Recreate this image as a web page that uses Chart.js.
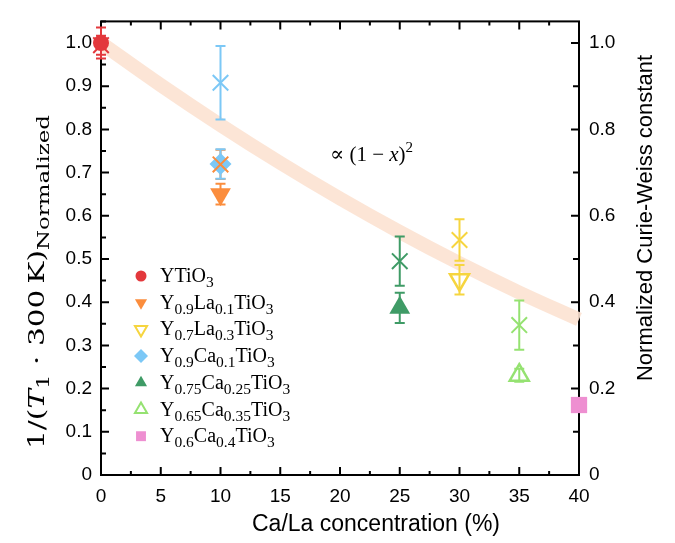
<!DOCTYPE html>
<html>
<head>
<meta charset="utf-8">
<script src="https://cdn.jsdelivr.net/npm/chart.js@4.4.1/dist/chart.umd.min.js"></script>
<style>
  html, body { margin: 0; padding: 0; background: #fff; }
</style>
</head>
<body>
<canvas id="chart" width="675" height="543"></canvas>
<script>
// samples, in legend order
const sampleParts = [
  [['YTiO', 'n'], ['3', 's']],
  [['Y', 'n'], ['0.9', 's'], ['La', 'n'], ['0.1', 's'], ['TiO', 'n'], ['3', 's']],
  [['Y', 'n'], ['0.7', 's'], ['La', 'n'], ['0.3', 's'], ['TiO', 'n'], ['3', 's']],
  [['Y', 'n'], ['0.9', 's'], ['Ca', 'n'], ['0.1', 's'], ['TiO', 'n'], ['3', 's']],
  [['Y', 'n'], ['0.75', 's'], ['Ca', 'n'], ['0.25', 's'], ['TiO', 'n'], ['3', 's']],
  [['Y', 'n'], ['0.65', 's'], ['Ca', 'n'], ['0.35', 's'], ['TiO', 'n'], ['3', 's']],
  [['Y', 'n'], ['0.6', 's'], ['Ca', 'n'], ['0.4', 's'], ['TiO', 'n'], ['3', 's']]
];
const concentration = [0, 10, 30, 10, 25, 35, 40];
// 1/(T1*300K), normalized
const t1Norm = [1.0, 0.650, 0.452, 0.720, 0.387, 0.231, 0.162];
const t1Err  = [0.036, 0.024, 0.034, 0.034, 0.035, 0.015, 0];
// normalized Curie-Weiss constant (x markers)
const cwNorm = [0.995, 0.719, 0.544, 0.908, 0.495, 0.347, null];
const cwErr  = [0.022, 0.034, 0.048, 0.085, 0.057, 0.057, 0];
// guide curve ~ (1-x)^2
const curveX = [0, 5, 10, 15, 20, 25, 30, 35, 40];
const curveY = [1.0, 0.9025, 0.81, 0.7225, 0.64, 0.5625, 0.49, 0.4225, 0.36];

const colors = ['#e3383c', '#fb8d3d', '#f6d53f', '#7cc8f6', '#3f9b66', '#95e271', '#ee8fd1'];
const styles = [
  { pointStyle: 'circle', radius: 8, rotation: 0, open: false },
  { pointStyle: 'triangle', radius: 12, rotation: 180, open: false },
  { pointStyle: 'triangle', radius: 11, rotation: 180, open: true },
  { pointStyle: 'rectRot', radius: 11, rotation: 0, open: false },
  { pointStyle: 'triangle', radius: 12, rotation: 0, open: false },
  { pointStyle: 'triangle', radius: 11, rotation: 0, open: true },
  { pointStyle: 'rect', radius: 11.5, rotation: 0, open: false }
];

const SANS = '"Liberation Sans", Arial, sans-serif';
const SERIF = '"Liberation Serif", "DejaVu Serif", serif';
const WIDE_SERIF = '"DejaVu Serif", serif';

const datasets = [];
datasets.push({
  label: 'curve',
  data: curveX.map((x, i) => ({ x: x, y: curveY[i] })),
  showLine: true,
  borderColor: 'rgba(252, 226, 210, 0.9)',
  borderWidth: 14,
  pointRadius: 0,
  tension: 0.4,
  order: 20,
  clip: false
});
concentration.forEach((c, i) => {
  const s = styles[i];
  datasets.push({
    label: 't1-' + i,
    data: [{ x: c, y: t1Norm[i] }],
    pointStyle: s.pointStyle,
    pointRadius: s.radius,
    rotation: s.rotation,
    backgroundColor: s.open ? 'rgba(255,255,255,0)' : colors[i],
    borderColor: colors[i],
    borderWidth: s.open ? 2.5 : 0,
    order: 5,
    clip: false
  });
});
concentration.forEach((c, i) => {
  if (cwNorm[i] === null) return;
  datasets.push({
    label: 'cw-' + i,
    data: [{ x: c, y: cwNorm[i] }],
    pointStyle: 'crossRot',
    pointRadius: 11,
    borderColor: colors[i],
    backgroundColor: colors[i],
    borderWidth: 2,
    order: i === 0 ? 10 : 1,
    clip: false
  });
});

// draws text pieces: n normal, s subscript, p superscript, i italic
function drawRich(ctx, parts, x, y, size, subSize, subDrop, family, measureOnly) {
  const fam = family || SERIF;
  let cx = x;
  parts.forEach(([t, kind]) => {
    let dy = 0;
    if (kind === 's' || kind === 'p') {
      ctx.font = subSize + 'px ' + fam;
      dy = kind === 's' ? subDrop : -size * 0.42;
    } else if (kind === 'i') {
      ctx.font = 'italic ' + size + 'px ' + fam;
    } else {
      ctx.font = size + 'px ' + fam;
    }
    if (!measureOnly) ctx.fillText(t, cx, y + dy);
    cx += ctx.measureText(t).width;
  });
  return cx - x;
}

const errorBars = {
  id: 'errorBars',
  afterDatasetDraw(chart, args) {
    if (args.index !== 0) return;
    const ctx = chart.ctx, xs = chart.scales.x, ys = chart.scales.y;
    ctx.save();
    ctx.lineWidth = 2;
    const bar = (xv, yv, e, col) => {
      if (yv === null || !e) return;
      const px = xs.getPixelForValue(xv);
      const y1 = ys.getPixelForValue(yv - e), y2 = ys.getPixelForValue(yv + e);
      ctx.strokeStyle = col;
      ctx.beginPath();
      ctx.moveTo(px, y1); ctx.lineTo(px, y2);
      ctx.moveTo(px - 5, y1); ctx.lineTo(px + 5, y1);
      ctx.moveTo(px - 5, y2); ctx.lineTo(px + 5, y2);
      ctx.stroke();
    };
    concentration.forEach((c, i) => {
      bar(c, cwNorm[i], cwErr[i], colors[i]);
      bar(c, t1Norm[i], t1Err[i], colors[i]);
    });
    ctx.restore();
  }
};

const frame = {
  id: 'frame',
  beforeDatasetsDraw(chart) {
    const ctx = chart.ctx, a = chart.chartArea;
    const xs = chart.scales.x, ys = chart.scales.y;
    ctx.save();
    ctx.strokeStyle = '#000';
    ctx.lineWidth = 2;
    ctx.strokeRect(a.left, a.top, a.right - a.left, a.bottom - a.top);
    ctx.beginPath();
    for (let k = 0; k <= 16; k++) {
      const px = xs.getPixelForValue(k * 2.5);
      const len = k % 2 === 0 ? 8 : 4;
      ctx.moveTo(px, a.bottom); ctx.lineTo(px, a.bottom - len);
      ctx.moveTo(px, a.top); ctx.lineTo(px, a.top + len);
    }
    for (let k = 0; k <= 21; k++) {
      const py = ys.getPixelForValue(k * 0.05);
      const len = k % 2 === 0 ? 8 : 5;
      ctx.moveTo(a.left, py); ctx.lineTo(a.left + len, py);
    }
    for (let k = 0; k <= 10; k++) {
      const py = ys.getPixelForValue(k * 0.1);
      const len = k % 2 === 0 ? 8 : 6;
      ctx.moveTo(a.right, py); ctx.lineTo(a.right - len, py);
    }
    ctx.stroke();
    ctx.restore();
  },
  afterDraw(chart) {
    const ctx = chart.ctx;
    ctx.save();
    ctx.fillStyle = '#000';
    ctx.textBaseline = 'alphabetic';

    // x title
    ctx.font = '23px ' + SANS;
    ctx.textAlign = 'center';
    ctx.fillText('Ca/La concentration (%)', 376, 531);

    // right title
    ctx.save();
    ctx.translate(652, 218);
    ctx.rotate(-Math.PI / 2);
    ctx.font = '22px ' + SANS;
    ctx.fillText('Normalized Curie-Weiss constant', 0, 0);
    ctx.restore();

    // left title, fitted along its length to the reference extent
    ctx.textAlign = 'left';
    const ttl = [['1/(', 'n'], ['T', 'i'], ['1', 's'], [' \u00b7 300\u2009K)', 'n'], ['Normalized', 's']];
    const w = drawRich(ctx, ttl, 0, 0, 22, 17, 5, WIDE_SERIF, true);
    ctx.save();
    ctx.translate(44, 449);
    ctx.rotate(-Math.PI / 2);
    ctx.scale(334 / w, 1);
    drawRich(ctx, ttl, 0, 0, 22, 17, 5, WIDE_SERIF);
    ctx.restore();

    // annotation
    drawRich(ctx, [['\u221d (1 \u2212 ', 'n'], ['x', 'i'], [')', 'n'], ['2', 'p']], 330, 161, 21, 15, 0);

    // legend
    const lx = 141, ly0 = 276, dy = 26.7;
    sampleParts.forEach((parts, i) => {
      const y = ly0 + i * dy;
      const s = styles[i];
      ctx.fillStyle = s.open ? '#fff' : colors[i];
      ctx.strokeStyle = colors[i];
      Chart.helpers.drawPoint(ctx, {
        pointStyle: s.pointStyle,
        radius: s.pointStyle === 'circle' ? 5.5 : 7,
        rotation: s.rotation,
        borderWidth: s.open ? 2 : 0
      }, lx, y);
      ctx.fillStyle = '#000';
      drawRich(ctx, parts, 160, y + 6, 20, 15.5, 5);
    });
    ctx.restore();
  }
};

const fmt = v => (Math.abs(v) < 1e-9 ? '0' : v.toFixed(1));

new Chart(document.getElementById('chart'), {
  type: 'scatter',
  data: { datasets: datasets },
  options: {
    responsive: false,
    animation: false,
    layout: { padding: { top: 8, left: 0, right: 0, bottom: 0 } },
    plugins: { legend: { display: false }, tooltip: { enabled: false } },
    scales: {
      x: {
        type: 'linear', min: 0, max: 40,
        grid: { display: false, drawTicks: false },
        border: { display: false },
        ticks: { stepSize: 5, color: '#000', font: { family: SANS, size: 19 }, padding: 10, maxRotation: 0 },
        afterFit: s => { s.height = 68; }
      },
      y: {
        type: 'linear', min: 0, max: 1.05,
        grid: { display: false, drawTicks: false },
        border: { display: false },
        ticks: { stepSize: 0.1, includeBounds: false, color: '#000', font: { family: SANS, size: 19 }, padding: 9, callback: fmt },
        afterFit: s => { s.width = 101; }
      },
      y2: {
        type: 'linear', position: 'right', min: 0, max: 1.05,
        grid: { display: false, drawTicks: false },
        border: { display: false },
        ticks: { stepSize: 0.2, includeBounds: false, color: '#000', font: { family: SANS, size: 19 }, padding: 10, callback: fmt },
        afterFit: s => { s.width = 96; }
      }
    }
  },
  plugins: [frame, errorBars]
});
</script>
</body>
</html>
